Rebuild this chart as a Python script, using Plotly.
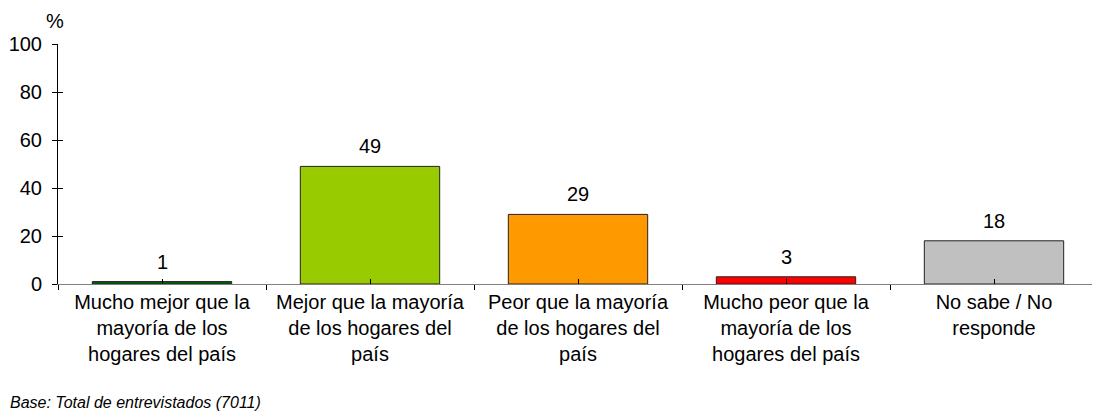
import plotly.graph_objects as go

# data
categorias = [
    "Mucho mejor que la<br>mayoría de los<br>hogares del país",
    "Mejor que la mayoría<br>de los hogares del<br>país",
    "Peor que la mayoría<br>de los hogares del<br>país",
    "Mucho peor que la<br>mayoría de los<br>hogares del país",
    "No sabe / No<br>responde",
]
porcentajes = [1, 49, 29, 3, 18]
colores = ["#006600", "#99CC00", "#FF9900", "#FF0000", "#C0C0C0"]
y_ticks = [0, 20, 40, 60, 80, 100]

font = "Liberation Sans, Arial, sans-serif"

# page puts the figure at an 8px offset, so margins are shifted by that
L, T, PW, PH = 50, 36, 1040, 240

fig = go.Figure()
fig.add_trace(go.Bar(
    x=categorias, y=porcentajes,
    marker=dict(color=colores, line=dict(color="#222222", width=1)),
    width=0.67, showlegend=False, hoverinfo="y",
))
# invisible trace so the overlay axes draw their crossing ticks
fig.add_trace(go.Scatter(
    x=categorias, y=porcentajes, xaxis="x2", yaxis="y2",
    mode="markers", marker=dict(opacity=0), hoverinfo="skip", showlegend=False,
))

anns = []
for c, v in zip(categorias, porcentajes):
    anns.append(dict(x=c, y=v, text=str(v), xref="x", yref="y", showarrow=False,
                     yanchor="middle", yshift=20, font=dict(size=20)))
anns.append(dict(text="%", x=(47 - L) / PW, y=1 + (T - 13) / PH, xref="paper", yref="paper",
                 xanchor="center", yanchor="middle", showarrow=False, font=dict(size=20)))
anns.append(dict(text="<i>Base: Total de entrevistados (7011)</i>", x=-L / PW,
                 y=-(394 - T - PH) / PH, xref="paper", yref="paper",
                 xanchor="left", yanchor="middle", showarrow=False, font=dict(size=16)))

fig.update_layout(
    width=1100, height=416,
    margin=dict(l=L, r=1100 - L - PW, t=T, b=416 - T - PH),
    plot_bgcolor="white", paper_bgcolor="white",
    font=dict(family=font, size=20, color="black"),
    xaxis=dict(
        type="category", showline=True, linecolor="#808080", linewidth=1,
        ticks="outside", tickson="boundaries", ticklen=5, tickcolor="black",
        tickfont=dict(size=20), showgrid=False, zeroline=False,
        range=[-0.5, 4.5], automargin=False,
    ),
    xaxis2=dict(
        type="category", overlaying="x", side="bottom", showline=False,
        ticks="inside", ticklen=5, tickcolor="black", showticklabels=False,
        showgrid=False, zeroline=False, range=[-0.5, 4.5], automargin=False,
    ),
    yaxis=dict(
        range=[0, 100], tickvals=y_ticks, showline=True, linecolor="black",
        linewidth=1, ticks="outside", ticklen=5, tickcolor="black",
        showgrid=False, zeroline=False, tickfont=dict(size=20),
        ticklabelstandoff=6, automargin=False,
    ),
    yaxis2=dict(
        range=[0, 100], tickvals=y_ticks, overlaying="y", side="left",
        ticks="inside", ticklen=5, tickcolor="black", showticklabels=False,
        showgrid=False, zeroline=False, showline=False, automargin=False,
    ),
    annotations=anns,
)

fig.write_html("out.html")
